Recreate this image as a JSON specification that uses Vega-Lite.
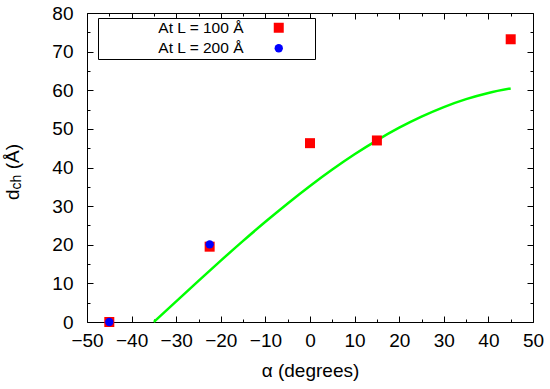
{
  "$schema": "https://vega.github.io/schema/vega-lite/v6.json",
  "width": 446,
  "height": 309,
  "autosize": {"type": "none"},
  "padding": {"left": 87, "top": 13, "right": 17, "bottom": 67},
  "config": {
    "view": {"stroke": "#000", "strokeWidth": 1},
    "font": "Liberation Sans",
    "axis": {
      "grid": false,
      "domain": false,
      "tickColor": "#000",
      "tickWidth": 1,
      "labelColor": "#000",
      "titleColor": "#000",
      "labelFont": "Liberation Sans",
      "titleFont": "Liberation Sans",
      "labelFontSize": 19,
      "titleFontSize": 19,
      "titleFontWeight": "normal",
      "labelFlush": false,
      "labelOverlap": false
    }
  },
  "datasets": {
    "fit": [
      {"alpha": -35, "d": 0},
      {"alpha": -30, "d": 5.35},
      {"alpha": -25, "d": 10.66},
      {"alpha": -20, "d": 15.89},
      {"alpha": -15, "d": 21.0},
      {"alpha": -10, "d": 25.95},
      {"alpha": -5, "d": 30.7},
      {"alpha": 0, "d": 35.22},
      {"alpha": 5, "d": 39.47},
      {"alpha": 10, "d": 43.42},
      {"alpha": 15, "d": 47.03},
      {"alpha": 20, "d": 50.3},
      {"alpha": 25, "d": 53.17},
      {"alpha": 30, "d": 55.65},
      {"alpha": 35, "d": 57.7},
      {"alpha": 40, "d": 59.31},
      {"alpha": 45, "d": 60.47}
    ],
    "pts": [
      {"alpha": -45, "d": 0, "series": "At L = 100 Å"},
      {"alpha": -22.5, "d": 19.5, "series": "At L = 100 Å"},
      {"alpha": 0, "d": 46.3, "series": "At L = 100 Å"},
      {"alpha": 15, "d": 47, "series": "At L = 100 Å"},
      {"alpha": 45, "d": 73.2, "series": "At L = 100 Å"},
      {"alpha": -45, "d": 0, "series": "At L = 200 Å"},
      {"alpha": -22.5, "d": 20.1, "series": "At L = 200 Å"}
    ],
    "one": [{"k": 1}]
  },
  "layer": [
    {
      "data": {"name": "fit"},
      "mark": {"type": "line", "color": "#00ff00", "strokeWidth": 2.5, "interpolate": "monotone"},
      "encoding": {
        "x": {
          "field": "alpha", "type": "quantitative",
          "scale": {"domain": [-50, 50], "nice": false, "zero": false},
          "axis": {"orient": "bottom", "values": [-50, -40, -30, -20, -10, 0, 10, 20, 30, 40, 50], "tickSize": -6, "labelPadding": 15, "title": "α (degrees)", "titlePadding": 11}
        },
        "y": {
          "field": "d", "type": "quantitative",
          "scale": {"domain": [0, 80], "nice": false, "zero": false},
          "axis": {"orient": "left", "values": [0, 10, 20, 30, 40, 50, 60, 70, 80], "tickSize": -6, "labelPadding": 20, "title": null}
        }
      }
    },
    {
      "data": {"name": "pts"},
      "mark": {"type": "point", "filled": true, "opacity": 1, "strokeWidth": 0},
      "encoding": {
        "x": {
          "field": "alpha", "type": "quantitative",
          "scale": {"domain": [-50, 50], "nice": false, "zero": false},
          "axis": {"orient": "bottom", "values": [-45, -35, -25, -15, -5, 5, 15, 25, 35, 45], "tickSize": -3, "labels": false, "title": null}
        },
        "y": {
          "field": "d", "type": "quantitative",
          "scale": {"domain": [0, 80], "nice": false, "zero": false},
          "axis": {"orient": "left", "values": [5, 15, 25, 35, 45, 55, 65, 75], "tickSize": -3, "labels": false, "title": null}
        },
        "color": {
          "field": "series", "type": "nominal",
          "scale": {"domain": ["At L = 100 Å", "At L = 200 Å"], "range": ["#ff0000", "#0000ff"]},
          "legend": {
            "title": "\u2003", "titleOrient": "right", "titlePadding": 29, "titleFontSize": 12,
            "orient": "none", "legendX": 11, "legendY": 5,
            "strokeColor": "#000", "fillColor": "#fff", "padding": 2,
            "labelFont": "Liberation Sans", "labelFontSize": 15.5, "labelColor": "#000",
            "symbolOffset": 171, "labelAlign": "right", "labelOffset": -43, "rowPadding": 3.5
          }
        },
        "shape": {
          "field": "series", "type": "nominal",
          "scale": {"domain": ["At L = 100 Å", "At L = 200 Å"], "range": ["square", "circle"]}
        },
        "size": {
          "field": "series", "type": "nominal",
          "scale": {"domain": ["At L = 100 Å", "At L = 200 Å"], "range": [100, 70]}
        }
      }
    },
    {
      "data": {"name": "one"},
      "mark": {"type": "text", "text": "d", "angle": 270, "align": "left", "baseline": "alphabetic", "fontSize": 19, "font": "Liberation Sans", "color": "#000"},
      "encoding": {
        "x": {"datum": -65.25, "type": "quantitative", "axis": {"orient": "top", "values": [-50, -40, -30, -20, -10, 0, 10, 20, 30, 40, 50], "tickSize": -6, "labels": false, "title": null}},
        "y": {"datum": 31.59, "type": "quantitative", "axis": {"orient": "right", "values": [0, 10, 20, 30, 40, 50, 60, 70, 80], "tickSize": -6, "labels": false, "title": null}}
      }
    },
    {
      "data": {"name": "one"},
      "mark": {"type": "text", "text": "ch", "angle": 270, "align": "left", "baseline": "alphabetic", "fontSize": 14, "font": "Liberation Sans", "color": "#000"},
      "encoding": {
        "x": {"datum": -64.8, "type": "quantitative", "axis": {"orient": "top", "values": [-45, -35, -25, -15, -5, 5, 15, 25, 35, 45], "tickSize": -3, "labels": false, "title": null}},
        "y": {"datum": 34.33, "type": "quantitative", "axis": {"orient": "right", "values": [5, 15, 25, 35, 45, 55, 65, 75], "tickSize": -3, "labels": false, "title": null}}
      }
    },
    {
      "data": {"name": "one"},
      "mark": {"type": "text", "text": "(Å)", "angle": 270, "align": "left", "baseline": "alphabetic", "fontSize": 19, "font": "Liberation Sans", "color": "#000"},
      "encoding": {
        "x": {"datum": -65.25, "type": "quantitative", "axis": null},
        "y": {"datum": 39.53, "type": "quantitative", "axis": null}
      }
    }
  ],
  "resolve": {"axis": {"x": "independent", "y": "independent"}}
}
